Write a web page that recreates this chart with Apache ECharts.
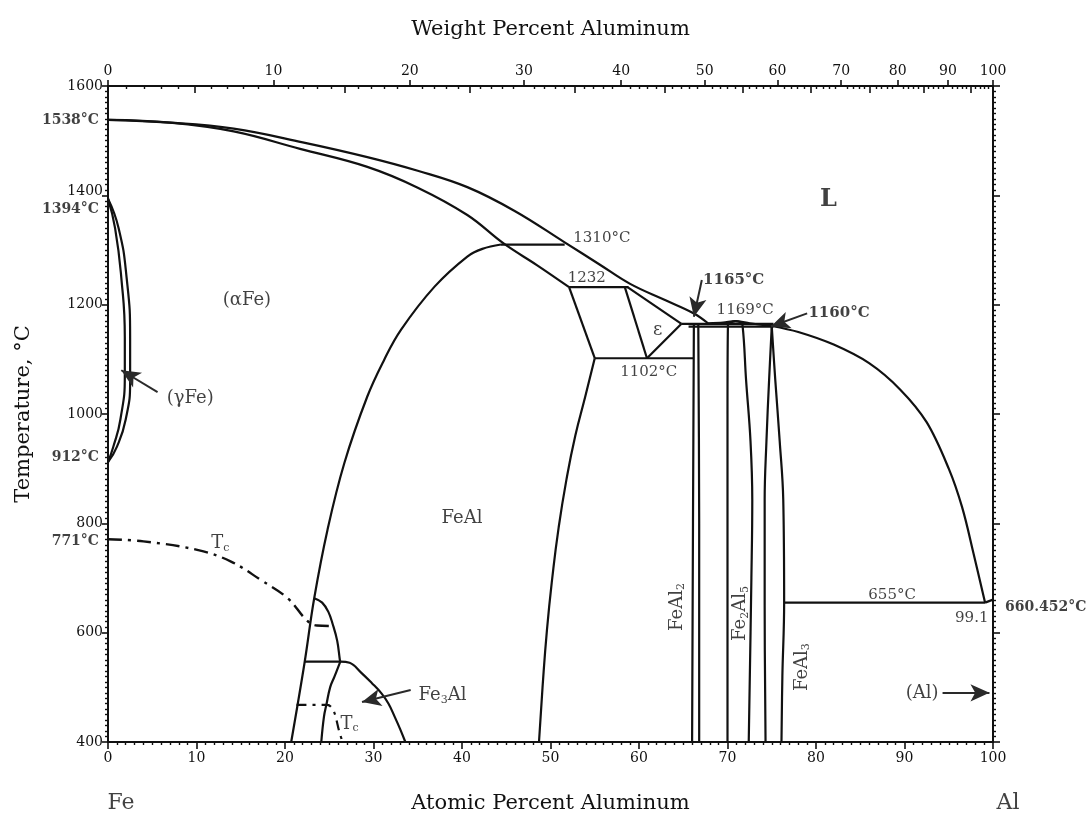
<!DOCTYPE html>
<html>
<head>
<meta charset="utf-8">
<title>Fe–Al phase diagram</title>
<script src="https://cdn.jsdelivr.net/npm/echarts@6/dist/echarts.min.js"></script>
<style>
  html, body { margin: 0; padding: 0; background: #ffffff; }
  #chart { width: 1091px; height: 814px; }
</style>
</head>
<body>
<div id="chart"></div>
<script>
// ---- Phase boundaries, [atomic % Al, temperature °C] ----
const liquidusFe   = [[0,1538],[7,1533],[14.2,1522],[22,1497],[29.3,1470],[35,1445],[40.6,1415],[46,1371],[51.6,1314],[55.5,1274],[59,1238],[63,1208],[66.2,1184],[67.8,1166]];
const solidusFe    = [[0,1538],[7,1533],[14.2,1517],[21.7,1485],[29.3,1452],[35,1414],[40.6,1364],[44.7,1312],[48.5,1272],[52.1,1232]];
const gammaOuter   = [[0,1394],[1.2,1340],[2.1,1250],[2.5,1140],[2.5,1060],[2.0,990],[1.0,940],[0,912]];
const gammaInner   = [[0,1394],[0.8,1340],[1.5,1250],[1.9,1140],[1.9,1070],[1.4,990],[0.6,940],[0,912]];
const feAlOrder    = [[20.7,400],[22.2,544],[23.3,663],[24.8,788],[26.7,910],[29.3,1032],[31.2,1099],[33.1,1154],[36.9,1233],[40.6,1288],[42.3,1302],[44.4,1310]];
const line1310     = [[44.4,1310],[51.6,1310]];
const line1232     = [[52.1,1232],[58.8,1232]];
const feAlEps      = [[52.1,1232],[55.0,1102]];
const feAlRight    = [[55.0,1102],[53.9,1030],[52.8,960],[51.8,880],[50.9,790],[50.2,700],[49.6,605],[49.1,500],[48.7,400]];
const epsLeft      = [[58.4,1232],[60.9,1102]];
const epsLiquid    = [[58.7,1232],[64.8,1165]];
const epsRight     = [[60.9,1102],[64.8,1165]];
const line1102     = [[55.0,1102],[66.2,1102]];
const line1165     = [[64.8,1165],[75.2,1165]];
const line1160     = [[65.6,1160],[75.2,1160]];
const feAl2Left    = [[66.0,400],[66.1,800],[66.2,1163]];
const feAl2Right   = [[66.8,400],[66.8,800],[66.7,1163]];
const fe2Al5Left   = [[70.0,400],[70.0,1000],[70.05,1163],[70.4,1168],[70.9,1170]];
const fe2Al5Right  = [[70.9,1170],[71.4,1168],[71.7,1162],[72.1,1062],[72.6,950],[72.8,843],[72.7,700],[72.4,400]];
const liquidusMid  = [[67.8,1166],[69.5,1167],[70.9,1170],[72.5,1166],[75.0,1161]];
const feAl3Left    = [[75.0,1160],[74.7,1062],[74.4,950],[74.2,843],[74.2,650],[74.3,400]];
const feAl3Right   = [[75.0,1160],[75.4,1062],[75.9,950],[76.3,843],[76.4,655],[76.2,520],[76.1,400]];
const liquidusAl   = [[75.0,1161],[78,1150],[82,1127],[86,1093],[89.5,1045],[92.5,985],[95,900],[96.5,830],[97.8,745],[99.1,655]];
const line655      = [[76.4,655],[99.1,655]];
const alSolidus    = [[99.1,655],[100,660.452]];
const fe3AlDome    = [[23.3,663],[24.2,655],[24.9,638],[25.4,615],[25.9,585],[26.2,550],[26.25,547]];
const line547      = [[22.2,547],[26.3,547]];
const fe3AlInner   = [[26.25,547],[25.6,520],[25.1,500],[24.7,470],[24.4,446],[24.1,400]];
const fe3AlRight   = [[26.25,547],[27.3,545],[28.6,527],[29.8,508],[30.9,489],[31.7,470],[32.4,446],[33.0,424],[33.6,400]];
const curieUpper   = [[0,771],[4,767],[10.2,751],[13.9,730],[17.3,696],[20.3,663],[22.5,622],[23.6,613],[25.4,612]];
const curieLower   = [[21.3,468],[24.8,468],[25.5,457],[26.1,421],[26.5,400]];

// ---- Text on the diagram, [atomic % Al, °C, text] ----
const phaseNames   = [[15.7,1208,'(αFe)'],[9.3,1028,'(γFe)'],[40.0,809,'FeAl'],[37.8,485,'Fe{s|3}Al'],[62.1,1153,'ε'],[92.0,489,'(Al)']];
const liquidName   = [[81.4,1391,'L']];
const tempNotes    = [[55.8,1321,'1310°C'],[54.1,1248,'1232'],[72.0,1190,'1169°C'],[61.1,1077,'1102°C'],[88.6,668,'655°C'],[97.6,626,'99.1']];
const tempNotesBold= [[70.7,1245,'1165°C'],[82.6,1184,'1160°C']];
const compoundNames= [[64.3,647,'FeAl{s|2}'],[71.5,635,'Fe{s|2}Al{s|5}'],[78.4,537,'FeAl{s|3}']];
const curieNames   = [[12.7,763,'T{s|c}'],[27.3,433,'T{s|c}']];
const feSideTemps  = [[1538,'1538°C'],[1394,'1394°C'],[912,'912°C'],[771,'771°C']];
const alMeltTemp   = [[100,660.452,'660.452°C']];
const elementNames = [[0,400,'Fe'],[100,400,'Al']];
// pointer arrows: [from x, from °C, to x, to °C]
const arrows       = [[5.6,1040,1.5,1080],[34.2,495,28.7,473],[67.1,1245,66.2,1178],[79.0,1184,74.9,1160],[94.3,490,99.6,490]];

// ---- Weight-percent scale along the top ----
const wtMajor = [0,10,20,30,40,50,60,70,80,90,100];
const wtMid   = [5,15,25,35,45,55,65,75,85,95];
const M_AL = 26.98, M_FE = 55.845;
function wtToAt(w) { const a = w / M_AL, f = (100 - w) / M_FE; return 100 * a / (a + f); }
const wtMinor = [];
for (let w = 1; w < 100; w++) if (w % 5 !== 0) wtMinor.push(wtToAt(w));

const FONT = 'DejaVu Serif';
const INK = '#111111';
const SUB = { fontSize: 11, fontFamily: FONT, color: INK, padding: [9, 0, 0, 0] };

const chart = echarts.init(document.getElementById('chart'), null, { renderer: 'canvas' });

function boundary(data, opts) {
  opts = opts || {};
  return {
    type: 'line', data: data, xAxisIndex: 0, yAxisIndex: 0,
    symbol: 'none', silent: true, animation: false,
    smooth: opts.smooth || 0,
    lineStyle: { color: INK, width: opts.width || 2.2, type: opts.dash || 'solid', cap: 'butt' },
    z: 3
  };
}

function textItems(list, style) {
  return list.map(function (d) {
    return {
      value: [d[0], d[1]],
      label: Object.assign({
        show: true, formatter: d[2], position: 'inside',
        fontFamily: FONT, color: INK, rich: { s: SUB }
      }, style)
    };
  });
}

const labelData = [].concat(
  textItems(phaseNames, { fontSize: 18 }),
  textItems(liquidName, { fontSize: 24, fontWeight: 'bold' }),
  textItems(tempNotes, { fontSize: 15 }),
  textItems(tempNotesBold, { fontSize: 15, fontWeight: 'bold' }),
  textItems(compoundNames, { fontSize: 18, rotate: 90 }),
  textItems(curieNames, { fontSize: 18 }),
  feSideTemps.map(function (d) {
    const dy = d[0] === 1394 ? 11 : d[0] === 912 ? -5 : d[0] === 771 ? 2 : 0;
    return { value: [0, d[0]], label: { show: true, formatter: d[1], position: 'left', distance: 9,
      offset: [0, dy], fontFamily: FONT, fontSize: 14, fontWeight: 'bold', color: INK } };
  }),
  alMeltTemp.map(function (d) {
    return { value: [d[0], d[1]], label: { show: true, formatter: d[2], position: 'right', distance: 12,
      offset: [0, 8], fontFamily: FONT, fontSize: 14, fontWeight: 'bold', color: INK } };
  }),
  elementNames.map(function (d, i) {
    return { value: [d[0], d[1]], label: { show: true, formatter: d[2], position: 'inside',
      offset: [i === 0 ? 13 : 15, 61], fontFamily: FONT, fontSize: 22, color: INK } };
  })
);

const baseTick = { lineStyle: { color: INK, width: 1.6 } };

const option = {
  backgroundColor: '#ffffff',
  animation: false,
  grid: { left: 108, right: 98, top: 86, bottom: 72, containLabel: false, outerBoundsMode: 'none' },
  xAxis: [
    { // atomic percent, bottom
      type: 'value', position: 'bottom', min: 0, max: 100, interval: 10,
      name: 'Atomic Percent Aluminum', nameLocation: 'middle', nameGap: 51,
      nameTextStyle: { fontFamily: FONT, fontSize: 21, color: INK },
      axisLine: { show: true, onZero: false, lineStyle: { color: INK, width: 2 } },
      axisTick: Object.assign({ show: true, length: 7, inside: false }, baseTick),
      minorTick: { show: true, splitNumber: 10, length: 3, lineStyle: { color: INK, width: 1.4 } },
      axisLabel: { fontFamily: FONT, fontSize: 14, color: INK, margin: 9 },
      splitLine: { show: false }, minorSplitLine: { show: false }
    },
    { // weight percent, top: labelled ticks every 10 wt%
      type: 'value', position: 'top', min: 0, max: 100,
      name: 'Weight Percent Aluminum', nameLocation: 'middle', nameGap: 46,
      nameTextStyle: { fontFamily: FONT, fontSize: 21, color: INK },
      axisLine: { show: true, onZero: false, lineStyle: { color: INK, width: 2 } },
      axisTick: Object.assign({ show: true, length: 6, inside: false, customValues: wtMajor.map(wtToAt) }, baseTick),
      axisLabel: {
        show: true, fontFamily: FONT, fontSize: 14, color: INK, margin: 8,
        customValues: wtMajor.map(wtToAt),
        formatter: function (v) {
          for (const w of wtMajor) if (Math.abs(wtToAt(w) - v) < 1e-6) return String(w);
          return '';
        }
      },
      splitLine: { show: false }
    },
    { // weight percent, top: 5 wt% ticks
      type: 'value', position: 'top', min: 0, max: 100,
      axisLine: { show: false },
      axisTick: Object.assign({ show: true, length: 7, inside: true, customValues: wtMid.map(wtToAt) }, baseTick),
      axisLabel: { show: false }, splitLine: { show: false }
    },
    { // weight percent, top: 1 wt% ticks
      type: 'value', position: 'top', min: 0, max: 100,
      axisLine: { show: false },
      axisTick: { show: true, length: 3, inside: true, customValues: wtMinor, lineStyle: { color: INK, width: 1.4 } },
      axisLabel: { show: false }, splitLine: { show: false }
    }
  ],
  yAxis: [
    {
      type: 'value', position: 'left', min: 400, max: 1600, interval: 200,
      name: 'Temperature, °C', nameLocation: 'middle', nameGap: 74, nameRotate: 90,
      nameTextStyle: { fontFamily: FONT, fontSize: 21, color: INK },
      axisLine: { show: true, onZero: false, lineStyle: { color: INK, width: 2 } },
      axisTick: Object.assign({ show: true, length: 6, inside: false }, baseTick),
      minorTick: { show: true, splitNumber: 20, length: 3, lineStyle: { color: INK, width: 1.4 } },
      axisLabel: {
        fontFamily: FONT, fontSize: 14, color: INK, margin: 5,
        formatter: function (v) { return v === 1400 ? '{hi|1400}' : String(v); },
        rich: { hi: { fontFamily: FONT, fontSize: 14, color: INK, padding: [0, 0, 8, 0] } }
      },
      splitLine: { show: false }, minorSplitLine: { show: false }
    },
    {
      type: 'value', position: 'right', min: 400, max: 1600, interval: 200,
      axisLine: { show: true, onZero: false, lineStyle: { color: INK, width: 2 } },
      axisTick: Object.assign({ show: true, length: 7, inside: false }, baseTick),
      minorTick: { show: true, splitNumber: 20, length: 3, lineStyle: { color: INK, width: 1.4 } },
      axisLabel: { show: false },
      splitLine: { show: false }, minorSplitLine: { show: false }
    }
  ],
  series: [
    boundary(liquidusFe, { smooth: 0.4 }),
    boundary(solidusFe, { smooth: 0.4 }),
    boundary(gammaOuter, { smooth: 0.5 }),
    boundary(gammaInner, { smooth: 0.5 }),
    boundary(feAlOrder, { smooth: 0.4 }),
    boundary(line1310),
    boundary(line1232),
    boundary(feAlEps),
    boundary(feAlRight, { smooth: 0.5 }),
    boundary(epsLeft),
    boundary(epsLiquid),
    boundary(epsRight),
    boundary(line1102),
    boundary(line1165),
    boundary(line1160),
    boundary(feAl2Left, { smooth: 0.3 }),
    boundary(feAl2Right, { smooth: 0.3 }),
    boundary(fe2Al5Left, { smooth: 0.3 }),
    boundary(fe2Al5Right, { smooth: 0.4 }),
    boundary(liquidusMid, { smooth: 0.3 }),
    boundary(feAl3Left, { smooth: 0.4 }),
    boundary(feAl3Right, { smooth: 0.4 }),
    boundary(liquidusAl, { smooth: 0.35 }),
    boundary(line655),
    boundary(alSolidus),
    boundary(fe3AlDome, { smooth: 0.4 }),
    boundary(line547),
    boundary(fe3AlInner, { smooth: 0.4 }),
    boundary(fe3AlRight, { smooth: 0.4 }),
    boundary(curieUpper, { smooth: 0.4, dash: [14, 6, 3, 6], width: 2.4 }),
    boundary(curieLower, { smooth: 0.3, dash: [10, 6, 3, 6], width: 2.2 }),
    {
      type: 'line', data: [], xAxisIndex: 0, yAxisIndex: 0, silent: true, animation: false,
      markLine: {
        silent: true, animation: false,
        symbol: ['none', 'arrow'], symbolSize: [13, 19],
        lineStyle: { color: '#2a2a2a', width: 2, type: 'solid' },
        label: { show: false },
        emphasis: { disabled: true },
        data: arrows.map(function (a) { return [{ coord: [a[0], a[1]] }, { coord: [a[2], a[3]] }]; })
      }
    },
    {
      type: 'scatter', xAxisIndex: 0, yAxisIndex: 0, symbolSize: 0, silent: true,
      clip: false, animation: false, z: 5,
      data: labelData
    }
  ]
};

chart.setOption(option);
</script>
</body>
</html>
